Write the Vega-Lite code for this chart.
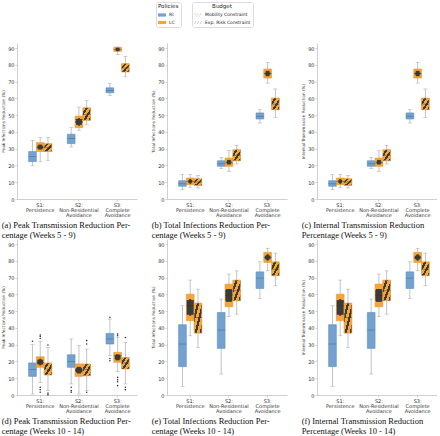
{
"$schema":"https://vega.github.io/schema/vega-lite/v6.json",
"padding":{"left":1,"top":1,"right":0,"bottom":0},
"background":"white",
"datasets":{
"boxes":[
{"p":"a","s":"S1","k":"RI","pol":"RI","bud":"Mobility Constraint","lo":19.8,"q1":22.3,"med":25.3,"q3":28.3,"hi":35},
{"p":"a","s":"S1","k":"LCM","pol":"LC","bud":"Mobility Constraint","lo":22.3,"q1":28.3,"med":30.7,"q3":33.6,"hi":36.6},
{"p":"a","s":"S1","k":"LCE","pol":"LC","bud":"Exp. Risk Constraint","lo":23.1,"q1":28.3,"med":30.7,"q3":33,"hi":36.6},
{"p":"a","s":"S2","k":"RI","pol":"RI","bud":"Mobility Constraint","lo":31,"q1":33,"med":36,"q3":38.6,"hi":42.5},
{"p":"a","s":"S2","k":"LCM","pol":"LC","bud":"Mobility Constraint","lo":41,"q1":42.5,"med":47.5,"q3":49.4,"hi":54.8},
{"p":"a","s":"S2","k":"LCE","pol":"LC","bud":"Exp. Risk Constraint","lo":44.5,"q1":46.9,"med":50.4,"q3":54.4,"hi":58.7},
{"p":"a","s":"S3","k":"RI","pol":"RI","bud":"Mobility Constraint","lo":61.7,"q1":63.3,"med":64.7,"q3":66.3,"hi":68.8},
{"p":"a","s":"S3","k":"LCM","pol":"LC","bud":"Mobility Constraint","lo":86,"q1":88,"med":89,"q3":90.4,"hi":90.6},
{"p":"a","s":"S3","k":"LCE","pol":"LC","bud":"Exp. Risk Constraint","lo":72.8,"q1":75.7,"med":78.1,"q3":80.7,"hi":85},
{"p":"b","s":"S1","k":"RI","pol":"RI","bud":"Mobility Constraint","lo":5.6,"q1":7.6,"med":9.1,"q3":10.9,"hi":14.5},
{"p":"b","s":"S1","k":"LCM","pol":"LC","bud":"Mobility Constraint","lo":7,"q1":8.5,"med":10.5,"q3":12.5,"hi":14.5},
{"p":"b","s":"S1","k":"LCE","pol":"LC","bud":"Exp. Risk Constraint","lo":6.6,"q1":8.1,"med":10.1,"q3":12.1,"hi":14.1},
{"p":"b","s":"S2","k":"RI","pol":"RI","bud":"Mobility Constraint","lo":18.1,"q1":19.5,"med":21,"q3":22.8,"hi":24.8},
{"p":"b","s":"S2","k":"LCM","pol":"LC","bud":"Mobility Constraint","lo":16.5,"q1":19.5,"med":21.5,"q3":24.4,"hi":28.8},
{"p":"b","s":"S2","k":"LCE","pol":"LC","bud":"Exp. Risk Constraint","lo":20.9,"q1":22.8,"med":26,"q3":29.4,"hi":32},
{"p":"b","s":"S3","k":"RI","pol":"RI","bud":"Mobility Constraint","lo":45.3,"q1":47.7,"med":49.3,"q3":51.3,"hi":53.2},
{"p":"b","s":"S3","k":"LCM","pol":"LC","bud":"Mobility Constraint","lo":69.1,"q1":72.1,"med":74.7,"q3":77.5,"hi":81.5},
{"p":"b","s":"S3","k":"LCE","pol":"LC","bud":"Exp. Risk Constraint","lo":48.7,"q1":53.2,"med":56.6,"q3":60.2,"hi":65.6},
{"p":"c","s":"S1","k":"RI","pol":"RI","bud":"Mobility Constraint","lo":5.6,"q1":7.6,"med":9.1,"q3":10.9,"hi":14.5},
{"p":"c","s":"S1","k":"LCM","pol":"LC","bud":"Mobility Constraint","lo":7,"q1":8.5,"med":10.5,"q3":12.5,"hi":14.5},
{"p":"c","s":"S1","k":"LCE","pol":"LC","bud":"Exp. Risk Constraint","lo":6.6,"q1":8.1,"med":10.1,"q3":12.1,"hi":14.1},
{"p":"c","s":"S2","k":"RI","pol":"RI","bud":"Mobility Constraint","lo":18.1,"q1":19.5,"med":21,"q3":22.8,"hi":24.8},
{"p":"c","s":"S2","k":"LCM","pol":"LC","bud":"Mobility Constraint","lo":16.5,"q1":19.5,"med":21.5,"q3":24.4,"hi":28.8},
{"p":"c","s":"S2","k":"LCE","pol":"LC","bud":"Exp. Risk Constraint","lo":20.9,"q1":22.8,"med":26,"q3":29.4,"hi":32},
{"p":"c","s":"S3","k":"RI","pol":"RI","bud":"Mobility Constraint","lo":45.3,"q1":47.7,"med":49.3,"q3":51.3,"hi":53.2},
{"p":"c","s":"S3","k":"LCM","pol":"LC","bud":"Mobility Constraint","lo":69.1,"q1":72.1,"med":74.7,"q3":77.5,"hi":81.5},
{"p":"c","s":"S3","k":"LCE","pol":"LC","bud":"Exp. Risk Constraint","lo":48.7,"q1":53.2,"med":56.6,"q3":60.2,"hi":65.6},
{"p":"d","s":"S1","k":"RI","pol":"RI","bud":"Mobility Constraint","lo":0.6,"q1":11.1,"med":15.1,"q3":19.1,"hi":30},
{"p":"d","s":"S1","k":"LCM","pol":"LC","bud":"Mobility Constraint","lo":7.5,"q1":16.5,"med":19.5,"q3":22.8,"hi":31.8},
{"p":"d","s":"S1","k":"LCE","pol":"LC","bud":"Exp. Risk Constraint","lo":2.6,"q1":11.9,"med":15.5,"q3":19.1,"hi":28.4},
{"p":"d","s":"S2","k":"RI","pol":"RI","bud":"Mobility Constraint","lo":6.6,"q1":16.5,"med":19.9,"q3":24,"hi":33.4},
{"p":"d","s":"S2","k":"LCM","pol":"LC","bud":"Mobility Constraint","lo":0.6,"q1":11.1,"med":14.5,"q3":18.5,"hi":29.4},
{"p":"d","s":"S2","k":"LCE","pol":"LC","bud":"Exp. Risk Constraint","lo":2.6,"q1":11.5,"med":15.1,"q3":18.5,"hi":27.4},
{"p":"d","s":"S3","k":"RI","pol":"RI","bud":"Mobility Constraint","lo":23.4,"q1":30.4,"med":33.4,"q3":36.7,"hi":45.3},
{"p":"d","s":"S3","k":"LCM","pol":"LC","bud":"Mobility Constraint","lo":13.9,"q1":19.5,"med":23.4,"q3":25.4,"hi":34.3},
{"p":"d","s":"S3","k":"LCE","pol":"LC","bud":"Exp. Risk Constraint","lo":6.6,"q1":15.5,"med":19.1,"q3":22.4,"hi":31.4},
{"p":"e","s":"S1","k":"RI","pol":"RI","bud":"Mobility Constraint","lo":5.2,"q1":16.9,"med":30.4,"q3":41.9,"hi":53.2},
{"p":"e","s":"S1","k":"LCM","pol":"LC","bud":"Mobility Constraint","lo":35.3,"q1":44.3,"med":53.2,"q3":60.1,"hi":68.5},
{"p":"e","s":"S1","k":"LCE","pol":"LC","bud":"Exp. Risk Constraint","lo":28.4,"q1":36.9,"med":46.3,"q3":54.8,"hi":63.1},
{"p":"e","s":"S2","k":"RI","pol":"RI","bud":"Mobility Constraint","lo":12.5,"q1":27.8,"med":38.7,"q3":49.2,"hi":57.2},
{"p":"e","s":"S2","k":"LCM","pol":"LC","bud":"Mobility Constraint","lo":46.8,"q1":52.6,"med":59.2,"q3":66.1,"hi":72.1},
{"p":"e","s":"S2","k":"LCE","pol":"LC","bud":"Exp. Risk Constraint","lo":48.2,"q1":56.2,"med":62.1,"q3":68.5,"hi":74},
{"p":"e","s":"S3","k":"RI","pol":"RI","bud":"Mobility Constraint","lo":57.6,"q1":63.5,"med":69.7,"q3":73.4,"hi":79.4},
{"p":"e","s":"S3","k":"LCM","pol":"LC","bud":"Mobility Constraint","lo":74,"q1":79,"med":82,"q3":85,"hi":87.5},
{"p":"e","s":"S3","k":"LCE","pol":"LC","bud":"Exp. Risk Constraint","lo":65.1,"q1":71.1,"med":75,"q3":79.4,"hi":84.6},
{"p":"f","s":"S1","k":"RI","pol":"RI","bud":"Mobility Constraint","lo":5.2,"q1":16.9,"med":30.4,"q3":41.9,"hi":53.2},
{"p":"f","s":"S1","k":"LCM","pol":"LC","bud":"Mobility Constraint","lo":35.3,"q1":44.3,"med":53.2,"q3":60.1,"hi":68.5},
{"p":"f","s":"S1","k":"LCE","pol":"LC","bud":"Exp. Risk Constraint","lo":28.4,"q1":36.9,"med":46.3,"q3":54.8,"hi":63.1},
{"p":"f","s":"S2","k":"RI","pol":"RI","bud":"Mobility Constraint","lo":12.5,"q1":27.8,"med":38.7,"q3":49.2,"hi":57.2},
{"p":"f","s":"S2","k":"LCM","pol":"LC","bud":"Mobility Constraint","lo":46.8,"q1":52.6,"med":59.2,"q3":66.1,"hi":72.1},
{"p":"f","s":"S2","k":"LCE","pol":"LC","bud":"Exp. Risk Constraint","lo":48.2,"q1":56.2,"med":62.1,"q3":68.5,"hi":74},
{"p":"f","s":"S3","k":"RI","pol":"RI","bud":"Mobility Constraint","lo":57.6,"q1":63.5,"med":69.7,"q3":73.4,"hi":79.4},
{"p":"f","s":"S3","k":"LCM","pol":"LC","bud":"Mobility Constraint","lo":74,"q1":79,"med":82,"q3":85,"hi":87.5},
{"p":"f","s":"S3","k":"LCE","pol":"LC","bud":"Exp. Risk Constraint","lo":65.1,"q1":71.1,"med":75,"q3":79.4,"hi":84.6}
],
"outl":[
{"s":"S1","k":"RI","v":32},
{"s":"S1","k":"LCM","v":35.7},{"s":"S1","k":"LCM","v":34.9},{"s":"S1","k":"LCM","v":33.7},{"s":"S1","k":"LCM","v":4.6},{"s":"S1","k":"LCM","v":3.2},{"s":"S1","k":"LCM","v":1.6},
{"s":"S1","k":"LCE","v":29.8},{"s":"S1","k":"LCE","v":1.2},{"s":"S1","k":"LCE","v":0.2},
{"s":"S2","k":"RI","v":4.6},{"s":"S2","k":"RI","v":2.6},{"s":"S2","k":"RI","v":1.6},
{"s":"S2","k":"LCE","v":32.4},{"s":"S2","k":"LCE","v":30.4},{"s":"S2","k":"LCE","v":1.6},
{"s":"S3","k":"RI","v":46.3},{"s":"S3","k":"RI","v":21.8},{"s":"S3","k":"RI","v":20.4},
{"s":"S3","k":"LCM","v":36.3},{"s":"S3","k":"LCM","v":35.3},{"s":"S3","k":"LCM","v":10.5},{"s":"S3","k":"LCM","v":9.1},{"s":"S3","k":"LCM","v":7.9},{"s":"S3","k":"LCM","v":5.6},
{"s":"S3","k":"LCE","v":34.3},{"s":"S3","k":"LCE","v":4.6},{"s":"S3","k":"LCE","v":3.2}
]
},
"config":{
"view":{"stroke":null},
"font":"DejaVu Sans",
"axis":{"labelFont":"DejaVu Sans","titleFont":"DejaVu Sans","labelFontSize":5,"titleFontSize":4.2,"titleFontWeight":"normal","labelColor":"#333","titleColor":"#333","domainColor":"#bbb","tickColor":"#bbb","domainWidth":0.7,"tickWidth":0.6,"tickSize":2,"labelPadding":1,"titlePadding":2,"grid":false,"labelOverlap":false},
"axisY":{"tickCount":10},
"legend":{"labelFont":"DejaVu Sans","titleFont":"DejaVu Sans","labelFontSize":4.5,"titleFontSize":5.5,"titleFontWeight":"normal","labelColor":"#222","titleColor":"#222","strokeColor":"#ddd","padding":2,"cornerRadius":2,"fillColor":"white","rowPadding":1.5,"titlePadding":1.5,"labelOffset":3,"symbolStrokeWidth":0},
"title":{"font":"Liberation Serif","fontSize":8.5,"fontWeight":"normal","color":"#111","orient":"bottom","anchor":"start","frame":"bounds","offset":0,"lineHeight":10}
},
"columns":3,
"spacing":{"row":40,"column":30},
"bounds":"flush",
"concat":[
{"width":120,"height":156,"data":{"name":"boxes"},"transform":[{"filter":"datum.p=='a'"}],
"title":{"text":["(a) Peak Transmission Reduction Per-","centage (Weeks 5 - 9)"]},
"encoding":{"x":{"field":"s","type":"nominal","scale":{"domain":["S1","S2","S3"],"paddingInner":0.4,"paddingOuter":0.25,"align":0.6},"axis":{"title":null,"labelAngle":0,"labelLineHeight":5.2,"labelPadding":1,"labelExpr":"datum.value=='S1' ? ['S1:','Persistence'] : datum.value=='S2' ? ['S2:','Non-Residential','Avoidance'] : ['S3:','Complete','Avoidance']"}},
"xOffset":{"field":"k","type":"nominal","scale":{"domain":["RI","LCM","LCE"],"paddingInner":0,"paddingOuter":0}}},
"layer":[
{"mark":{"type":"rule","color":"#9a9a9a","strokeWidth":0.6},"encoding":{"y":{"field":"lo","type":"quantitative","scale":{"domain":[0,93],"nice":false},"axis":{"title":"Peak Infections Reduction (%)","values":[0,10,20,30,40,50,60,70,80,90]}},"y2":{"field":"hi"}}},
{"mark":{"type":"tick","color":"#9a9a9a","thickness":0.6,"size":4},"encoding":{"y":{"field":"lo","type":"quantitative"}}},
{"mark":{"type":"tick","color":"#9a9a9a","thickness":0.6,"size":4},"encoding":{"y":{"field":"hi","type":"quantitative"}}},
{"transform":[{"filter":"datum.k=='RI'"}],"mark":{"type":"bar","fill":"#73a2cf","stroke":"#5f8fbf","strokeWidth":0.6},"encoding":{"y":{"field":"q1","type":"quantitative"},"y2":{"field":"q3"}}},
{"transform":[{"filter":"datum.k=='LCM'"}],"mark":{"type":"bar","stroke":"#e59730","strokeWidth":0.6,"fill":{"gradient":"radial","x1":0.5,"y1":0.5,"x2":0.5,"y2":0.5,"r1":0,"r2":0.5,"stops":[{"offset":0,"color":"#3a3a3a"},{"offset":0.6,"color":"#3a3a3a"},{"offset":0.6,"color":"#f6a536"},{"offset":1,"color":"#f6a536"}]}},"encoding":{"y":{"field":"q1","type":"quantitative"},"y2":{"field":"q3"}}},
{"transform":[{"filter":"datum.k=='LCE'"}],"mark":{"type":"bar","stroke":"#e59730","strokeWidth":0.6,"fill":{"gradient":"linear","x1":0,"y1":0,"x2":1,"y2":1,"stops":[{"offset":0,"color":"#f6a536"},{"offset":0.183,"color":"#f6a536"},{"offset":0.183,"color":"#3a3a3a"},{"offset":0.333,"color":"#3a3a3a"},{"offset":0.333,"color":"#f6a536"},{"offset":0.517,"color":"#f6a536"},{"offset":0.517,"color":"#3a3a3a"},{"offset":0.667,"color":"#3a3a3a"},{"offset":0.667,"color":"#f6a536"},{"offset":0.85,"color":"#f6a536"},{"offset":0.85,"color":"#3a3a3a"},{"offset":1,"color":"#3a3a3a"}]}},"encoding":{"y":{"field":"q1","type":"quantitative"},"y2":{"field":"q3"}}},
{"transform":[{"filter":"datum.k=='RI'"}],"mark":{"type":"tick","color":"#3f6d9c","thickness":0.8,"size":7.7},"encoding":{"y":{"field":"med","type":"quantitative"}}},
{"transform":[{"filter":"datum.k!='RI'"}],"mark":{"type":"tick","color":"#333","thickness":0.6,"size":7.7},"encoding":{"y":{"field":"med","type":"quantitative"}}},
{"transform":[{"filter":"datum.s=='S1'"}],"mark":{"type":"point","filled":true,"opacity":0},"encoding":{"y":{"field":"med","type":"quantitative"},"color":{"field":"pol","type":"nominal","scale":{"domain":["RI","LC"],"range":["#73a2cf","#f6a536"]},"legend":{"title":"Policies","orient":"none","legendX":139,"legendY":-41,"symbolType":"M-1,-0.4H1V0.4H-1Z","symbolSize":64,"symbolOpacity":1}}}},
{"transform":[{"filter":"datum.s=='S1' && datum.k!='RI'"}],"mark":{"type":"point","filled":true,"opacity":0,"color":"#cfcfcf"},"encoding":{"y":{"field":"med","type":"quantitative"},"shape":{"field":"bud","type":"nominal","scale":{"domain":["Mobility Constraint","Exp. Risk Constraint"],"range":["M-0.9,-0.35h0.3v0.3h-0.3z M-0.2,-0.35h0.3v0.3h-0.3z M0.5,-0.35h0.3v0.3h-0.3z M-0.55,0.1h0.3v0.3h-0.3z M0.15,0.1h0.3v0.3h-0.3z","M-1,0.4L-0.6,-0.4H-0.35L-0.75,0.4Z M-0.3,0.4L0.1,-0.4H0.35L-0.05,0.4Z M0.4,0.4L0.8,-0.4H1L0.65,0.4Z"]},"legend":{"title":"Budget","titleAnchor":"middle","orient":"none","legendX":175,"legendY":-41,"symbolSize":64,"symbolOpacity":1,"symbolFillColor":"#cfcfcf","symbolStrokeColor":"#cfcfcf"}}}}
]},
{"width":120,"height":156,"data":{"name":"boxes"},"transform":[{"filter":"datum.p=='b'"}],
"title":{"text":["(b) Total Infections Reduction Per-","centage (Weeks 5 - 9)"]},
"encoding":{"x":{"field":"s","type":"nominal","scale":{"domain":["S1","S2","S3"],"paddingInner":0.4,"paddingOuter":0.25,"align":0.6},"axis":{"title":null,"labelAngle":0,"labelLineHeight":5.2,"labelPadding":1,"labelExpr":"datum.value=='S1' ? ['S1:','Persistence'] : datum.value=='S2' ? ['S2:','Non-Residential','Avoidance'] : ['S3:','Complete','Avoidance']"}},
"xOffset":{"field":"k","type":"nominal","scale":{"domain":["RI","LCM","LCE"],"paddingInner":0,"paddingOuter":0}}},
"layer":[
{"mark":{"type":"rule","color":"#9a9a9a","strokeWidth":0.6},"encoding":{"y":{"field":"lo","type":"quantitative","scale":{"domain":[0,93],"nice":false},"axis":{"title":"Total Infections Reduction (%)","values":[0,10,20,30,40,50,60,70,80,90]}},"y2":{"field":"hi"}}},
{"mark":{"type":"tick","color":"#9a9a9a","thickness":0.6,"size":4},"encoding":{"y":{"field":"lo","type":"quantitative"}}},
{"mark":{"type":"tick","color":"#9a9a9a","thickness":0.6,"size":4},"encoding":{"y":{"field":"hi","type":"quantitative"}}},
{"transform":[{"filter":"datum.k=='RI'"}],"mark":{"type":"bar","fill":"#73a2cf","stroke":"#5f8fbf","strokeWidth":0.6},"encoding":{"y":{"field":"q1","type":"quantitative"},"y2":{"field":"q3"}}},
{"transform":[{"filter":"datum.k=='LCM'"}],"mark":{"type":"bar","stroke":"#e59730","strokeWidth":0.6,"fill":{"gradient":"radial","x1":0.5,"y1":0.5,"x2":0.5,"y2":0.5,"r1":0,"r2":0.5,"stops":[{"offset":0,"color":"#3a3a3a"},{"offset":0.6,"color":"#3a3a3a"},{"offset":0.6,"color":"#f6a536"},{"offset":1,"color":"#f6a536"}]}},"encoding":{"y":{"field":"q1","type":"quantitative"},"y2":{"field":"q3"}}},
{"transform":[{"filter":"datum.k=='LCE'"}],"mark":{"type":"bar","stroke":"#e59730","strokeWidth":0.6,"fill":{"gradient":"linear","x1":0,"y1":0,"x2":1,"y2":1,"stops":[{"offset":0,"color":"#f6a536"},{"offset":0.183,"color":"#f6a536"},{"offset":0.183,"color":"#3a3a3a"},{"offset":0.333,"color":"#3a3a3a"},{"offset":0.333,"color":"#f6a536"},{"offset":0.517,"color":"#f6a536"},{"offset":0.517,"color":"#3a3a3a"},{"offset":0.667,"color":"#3a3a3a"},{"offset":0.667,"color":"#f6a536"},{"offset":0.85,"color":"#f6a536"},{"offset":0.85,"color":"#3a3a3a"},{"offset":1,"color":"#3a3a3a"}]}},"encoding":{"y":{"field":"q1","type":"quantitative"},"y2":{"field":"q3"}}},
{"transform":[{"filter":"datum.k=='RI'"}],"mark":{"type":"tick","color":"#3f6d9c","thickness":0.8,"size":7.7},"encoding":{"y":{"field":"med","type":"quantitative"}}},
{"transform":[{"filter":"datum.k!='RI'"}],"mark":{"type":"tick","color":"#333","thickness":0.6,"size":7.7},"encoding":{"y":{"field":"med","type":"quantitative"}}}
]},
{"width":120,"height":156,"data":{"name":"boxes"},"transform":[{"filter":"datum.p=='c'"}],
"title":{"text":["(c) Internal Transmission Reduction","Percentage (Weeks 5 - 9)"]},
"encoding":{"x":{"field":"s","type":"nominal","scale":{"domain":["S1","S2","S3"],"paddingInner":0.4,"paddingOuter":0.25,"align":0.6},"axis":{"title":null,"labelAngle":0,"labelLineHeight":5.2,"labelPadding":1,"labelExpr":"datum.value=='S1' ? ['S1:','Persistence'] : datum.value=='S2' ? ['S2:','Non-Residential','Avoidance'] : ['S3:','Complete','Avoidance']"}},
"xOffset":{"field":"k","type":"nominal","scale":{"domain":["RI","LCM","LCE"],"paddingInner":0,"paddingOuter":0}}},
"layer":[
{"mark":{"type":"rule","color":"#9a9a9a","strokeWidth":0.6},"encoding":{"y":{"field":"lo","type":"quantitative","scale":{"domain":[0,93],"nice":false},"axis":{"title":"Internal Transmission Reduction (%)","values":[0,10,20,30,40,50,60,70,80,90]}},"y2":{"field":"hi"}}},
{"mark":{"type":"tick","color":"#9a9a9a","thickness":0.6,"size":4},"encoding":{"y":{"field":"lo","type":"quantitative"}}},
{"mark":{"type":"tick","color":"#9a9a9a","thickness":0.6,"size":4},"encoding":{"y":{"field":"hi","type":"quantitative"}}},
{"transform":[{"filter":"datum.k=='RI'"}],"mark":{"type":"bar","fill":"#73a2cf","stroke":"#5f8fbf","strokeWidth":0.6},"encoding":{"y":{"field":"q1","type":"quantitative"},"y2":{"field":"q3"}}},
{"transform":[{"filter":"datum.k=='LCM'"}],"mark":{"type":"bar","stroke":"#e59730","strokeWidth":0.6,"fill":{"gradient":"radial","x1":0.5,"y1":0.5,"x2":0.5,"y2":0.5,"r1":0,"r2":0.5,"stops":[{"offset":0,"color":"#3a3a3a"},{"offset":0.6,"color":"#3a3a3a"},{"offset":0.6,"color":"#f6a536"},{"offset":1,"color":"#f6a536"}]}},"encoding":{"y":{"field":"q1","type":"quantitative"},"y2":{"field":"q3"}}},
{"transform":[{"filter":"datum.k=='LCE'"}],"mark":{"type":"bar","stroke":"#e59730","strokeWidth":0.6,"fill":{"gradient":"linear","x1":0,"y1":0,"x2":1,"y2":1,"stops":[{"offset":0,"color":"#f6a536"},{"offset":0.183,"color":"#f6a536"},{"offset":0.183,"color":"#3a3a3a"},{"offset":0.333,"color":"#3a3a3a"},{"offset":0.333,"color":"#f6a536"},{"offset":0.517,"color":"#f6a536"},{"offset":0.517,"color":"#3a3a3a"},{"offset":0.667,"color":"#3a3a3a"},{"offset":0.667,"color":"#f6a536"},{"offset":0.85,"color":"#f6a536"},{"offset":0.85,"color":"#3a3a3a"},{"offset":1,"color":"#3a3a3a"}]}},"encoding":{"y":{"field":"q1","type":"quantitative"},"y2":{"field":"q3"}}},
{"transform":[{"filter":"datum.k=='RI'"}],"mark":{"type":"tick","color":"#3f6d9c","thickness":0.8,"size":7.7},"encoding":{"y":{"field":"med","type":"quantitative"}}},
{"transform":[{"filter":"datum.k!='RI'"}],"mark":{"type":"tick","color":"#333","thickness":0.6,"size":7.7},"encoding":{"y":{"field":"med","type":"quantitative"}}}
]},
{"width":120,"height":156,"data":{"name":"boxes"},"transform":[{"filter":"datum.p=='d'"}],
"title":{"text":["(d) Peak Transmission Reduction Per-","centage (Weeks 10 - 14)"]},
"encoding":{"x":{"field":"s","type":"nominal","scale":{"domain":["S1","S2","S3"],"paddingInner":0.4,"paddingOuter":0.25,"align":0.6},"axis":{"title":null,"labelAngle":0,"labelLineHeight":5.2,"labelPadding":1,"labelExpr":"datum.value=='S1' ? ['S1:','Persistence'] : datum.value=='S2' ? ['S2:','Non-Residential','Avoidance'] : ['S3:','Complete','Avoidance']"}},
"xOffset":{"field":"k","type":"nominal","scale":{"domain":["RI","LCM","LCE"],"paddingInner":0,"paddingOuter":0}}},
"layer":[
{"mark":{"type":"rule","color":"#9a9a9a","strokeWidth":0.6},"encoding":{"y":{"field":"lo","type":"quantitative","scale":{"domain":[0,93],"nice":false},"axis":{"title":"Peak Infections Reduction (%)","values":[0,10,20,30,40,50,60,70,80,90]}},"y2":{"field":"hi"}}},
{"mark":{"type":"tick","color":"#9a9a9a","thickness":0.6,"size":4},"encoding":{"y":{"field":"lo","type":"quantitative"}}},
{"mark":{"type":"tick","color":"#9a9a9a","thickness":0.6,"size":4},"encoding":{"y":{"field":"hi","type":"quantitative"}}},
{"transform":[{"filter":"datum.k=='RI'"}],"mark":{"type":"bar","fill":"#73a2cf","stroke":"#5f8fbf","strokeWidth":0.6},"encoding":{"y":{"field":"q1","type":"quantitative"},"y2":{"field":"q3"}}},
{"transform":[{"filter":"datum.k=='LCM'"}],"mark":{"type":"bar","stroke":"#e59730","strokeWidth":0.6,"fill":{"gradient":"radial","x1":0.5,"y1":0.5,"x2":0.5,"y2":0.5,"r1":0,"r2":0.5,"stops":[{"offset":0,"color":"#3a3a3a"},{"offset":0.6,"color":"#3a3a3a"},{"offset":0.6,"color":"#f6a536"},{"offset":1,"color":"#f6a536"}]}},"encoding":{"y":{"field":"q1","type":"quantitative"},"y2":{"field":"q3"}}},
{"transform":[{"filter":"datum.k=='LCE'"}],"mark":{"type":"bar","stroke":"#e59730","strokeWidth":0.6,"fill":{"gradient":"linear","x1":0,"y1":0,"x2":1,"y2":1,"stops":[{"offset":0,"color":"#f6a536"},{"offset":0.183,"color":"#f6a536"},{"offset":0.183,"color":"#3a3a3a"},{"offset":0.333,"color":"#3a3a3a"},{"offset":0.333,"color":"#f6a536"},{"offset":0.517,"color":"#f6a536"},{"offset":0.517,"color":"#3a3a3a"},{"offset":0.667,"color":"#3a3a3a"},{"offset":0.667,"color":"#f6a536"},{"offset":0.85,"color":"#f6a536"},{"offset":0.85,"color":"#3a3a3a"},{"offset":1,"color":"#3a3a3a"}]}},"encoding":{"y":{"field":"q1","type":"quantitative"},"y2":{"field":"q3"}}},
{"transform":[{"filter":"datum.k=='RI'"}],"mark":{"type":"tick","color":"#3f6d9c","thickness":0.8,"size":7.7},"encoding":{"y":{"field":"med","type":"quantitative"}}},
{"transform":[{"filter":"datum.k!='RI'"}],"mark":{"type":"tick","color":"#333","thickness":0.6,"size":7.7},"encoding":{"y":{"field":"med","type":"quantitative"}}},
{"data":{"name":"outl"},"mark":{"type":"point","filled":true,"size":2.5,"color":"#333","opacity":1},"encoding":{"y":{"field":"v","type":"quantitative"}}}
]},
{"width":120,"height":156,"data":{"name":"boxes"},"transform":[{"filter":"datum.p=='e'"}],
"title":{"text":["(e) Total Infections Reduction Per-","centage (Weeks 10 - 14)"]},
"encoding":{"x":{"field":"s","type":"nominal","scale":{"domain":["S1","S2","S3"],"paddingInner":0.4,"paddingOuter":0.25,"align":0.6},"axis":{"title":null,"labelAngle":0,"labelLineHeight":5.2,"labelPadding":1,"labelExpr":"datum.value=='S1' ? ['S1:','Persistence'] : datum.value=='S2' ? ['S2:','Non-Residential','Avoidance'] : ['S3:','Complete','Avoidance']"}},
"xOffset":{"field":"k","type":"nominal","scale":{"domain":["RI","LCM","LCE"],"paddingInner":0,"paddingOuter":0}}},
"layer":[
{"mark":{"type":"rule","color":"#9a9a9a","strokeWidth":0.6},"encoding":{"y":{"field":"lo","type":"quantitative","scale":{"domain":[0,93],"nice":false},"axis":{"title":"Total Infections Reduction (%)","values":[0,10,20,30,40,50,60,70,80,90]}},"y2":{"field":"hi"}}},
{"mark":{"type":"tick","color":"#9a9a9a","thickness":0.6,"size":4},"encoding":{"y":{"field":"lo","type":"quantitative"}}},
{"mark":{"type":"tick","color":"#9a9a9a","thickness":0.6,"size":4},"encoding":{"y":{"field":"hi","type":"quantitative"}}},
{"transform":[{"filter":"datum.k=='RI'"}],"mark":{"type":"bar","fill":"#73a2cf","stroke":"#5f8fbf","strokeWidth":0.6},"encoding":{"y":{"field":"q1","type":"quantitative"},"y2":{"field":"q3"}}},
{"transform":[{"filter":"datum.k=='LCM'"}],"mark":{"type":"bar","stroke":"#e59730","strokeWidth":0.6,"fill":{"gradient":"radial","x1":0.5,"y1":0.5,"x2":0.5,"y2":0.5,"r1":0,"r2":0.5,"stops":[{"offset":0,"color":"#3a3a3a"},{"offset":0.6,"color":"#3a3a3a"},{"offset":0.6,"color":"#f6a536"},{"offset":1,"color":"#f6a536"}]}},"encoding":{"y":{"field":"q1","type":"quantitative"},"y2":{"field":"q3"}}},
{"transform":[{"filter":"datum.k=='LCE'"}],"mark":{"type":"bar","stroke":"#e59730","strokeWidth":0.6,"fill":{"gradient":"linear","x1":0,"y1":0,"x2":1,"y2":1,"stops":[{"offset":0,"color":"#f6a536"},{"offset":0.183,"color":"#f6a536"},{"offset":0.183,"color":"#3a3a3a"},{"offset":0.333,"color":"#3a3a3a"},{"offset":0.333,"color":"#f6a536"},{"offset":0.517,"color":"#f6a536"},{"offset":0.517,"color":"#3a3a3a"},{"offset":0.667,"color":"#3a3a3a"},{"offset":0.667,"color":"#f6a536"},{"offset":0.85,"color":"#f6a536"},{"offset":0.85,"color":"#3a3a3a"},{"offset":1,"color":"#3a3a3a"}]}},"encoding":{"y":{"field":"q1","type":"quantitative"},"y2":{"field":"q3"}}},
{"transform":[{"filter":"datum.k=='RI'"}],"mark":{"type":"tick","color":"#3f6d9c","thickness":0.8,"size":7.7},"encoding":{"y":{"field":"med","type":"quantitative"}}},
{"transform":[{"filter":"datum.k!='RI'"}],"mark":{"type":"tick","color":"#333","thickness":0.6,"size":7.7},"encoding":{"y":{"field":"med","type":"quantitative"}}}
]},
{"width":120,"height":156,"data":{"name":"boxes"},"transform":[{"filter":"datum.p=='f'"}],
"title":{"text":["(f) Internal Transmission Reduction","Percentage (Weeks 10 - 14)"]},
"encoding":{"x":{"field":"s","type":"nominal","scale":{"domain":["S1","S2","S3"],"paddingInner":0.4,"paddingOuter":0.25,"align":0.6},"axis":{"title":null,"labelAngle":0,"labelLineHeight":5.2,"labelPadding":1,"labelExpr":"datum.value=='S1' ? ['S1:','Persistence'] : datum.value=='S2' ? ['S2:','Non-Residential','Avoidance'] : ['S3:','Complete','Avoidance']"}},
"xOffset":{"field":"k","type":"nominal","scale":{"domain":["RI","LCM","LCE"],"paddingInner":0,"paddingOuter":0}}},
"layer":[
{"mark":{"type":"rule","color":"#9a9a9a","strokeWidth":0.6},"encoding":{"y":{"field":"lo","type":"quantitative","scale":{"domain":[0,93],"nice":false},"axis":{"title":"Internal Transmission Reduction (%)","values":[0,10,20,30,40,50,60,70,80,90]}},"y2":{"field":"hi"}}},
{"mark":{"type":"tick","color":"#9a9a9a","thickness":0.6,"size":4},"encoding":{"y":{"field":"lo","type":"quantitative"}}},
{"mark":{"type":"tick","color":"#9a9a9a","thickness":0.6,"size":4},"encoding":{"y":{"field":"hi","type":"quantitative"}}},
{"transform":[{"filter":"datum.k=='RI'"}],"mark":{"type":"bar","fill":"#73a2cf","stroke":"#5f8fbf","strokeWidth":0.6},"encoding":{"y":{"field":"q1","type":"quantitative"},"y2":{"field":"q3"}}},
{"transform":[{"filter":"datum.k=='LCM'"}],"mark":{"type":"bar","stroke":"#e59730","strokeWidth":0.6,"fill":{"gradient":"radial","x1":0.5,"y1":0.5,"x2":0.5,"y2":0.5,"r1":0,"r2":0.5,"stops":[{"offset":0,"color":"#3a3a3a"},{"offset":0.6,"color":"#3a3a3a"},{"offset":0.6,"color":"#f6a536"},{"offset":1,"color":"#f6a536"}]}},"encoding":{"y":{"field":"q1","type":"quantitative"},"y2":{"field":"q3"}}},
{"transform":[{"filter":"datum.k=='LCE'"}],"mark":{"type":"bar","stroke":"#e59730","strokeWidth":0.6,"fill":{"gradient":"linear","x1":0,"y1":0,"x2":1,"y2":1,"stops":[{"offset":0,"color":"#f6a536"},{"offset":0.183,"color":"#f6a536"},{"offset":0.183,"color":"#3a3a3a"},{"offset":0.333,"color":"#3a3a3a"},{"offset":0.333,"color":"#f6a536"},{"offset":0.517,"color":"#f6a536"},{"offset":0.517,"color":"#3a3a3a"},{"offset":0.667,"color":"#3a3a3a"},{"offset":0.667,"color":"#f6a536"},{"offset":0.85,"color":"#f6a536"},{"offset":0.85,"color":"#3a3a3a"},{"offset":1,"color":"#3a3a3a"}]}},"encoding":{"y":{"field":"q1","type":"quantitative"},"y2":{"field":"q3"}}},
{"transform":[{"filter":"datum.k=='RI'"}],"mark":{"type":"tick","color":"#3f6d9c","thickness":0.8,"size":7.7},"encoding":{"y":{"field":"med","type":"quantitative"}}},
{"transform":[{"filter":"datum.k!='RI'"}],"mark":{"type":"tick","color":"#333","thickness":0.6,"size":7.7},"encoding":{"y":{"field":"med","type":"quantitative"}}}
]}
]
}
